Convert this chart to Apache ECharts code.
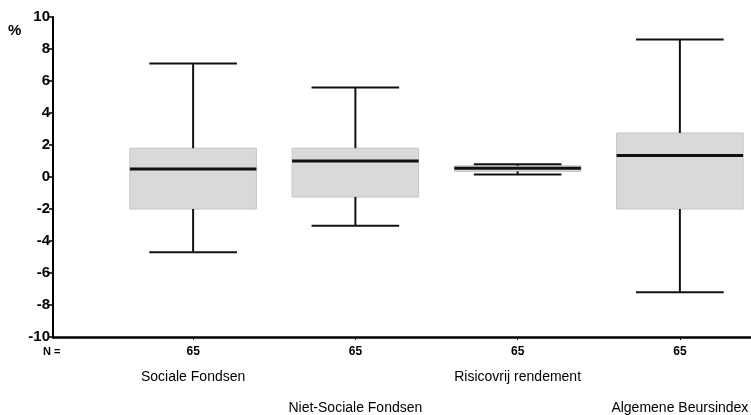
<!DOCTYPE html>
<html lang="nl">
  <head>
    <meta charset="UTF-8" />
    <title>Rendement boxplot</title>
    <style type="text/css">
      html, body {
        margin: 0;
        padding: 0;
        background-color: #fff;
      }
      #main {
        width: 751px;
        height: 415px;
      }
    </style>
  </head>
  <body>
    <div id="main"></div>
    <script src="https://cdn.jsdelivr.net/npm/echarts@6/dist/echarts.min.js"></script>
    <script type="text/javascript">
      // groepen en aantallen
      var categories = ["Sociale Fondsen", "Niet-Sociale Fondsen", "Risicovrij rendement", "Algemene Beursindex"];
      var counts = [65, 65, 65, 65];
      // [min, q1, mediaan, q3, max] in %
      var lowValues = [-4.7, -3.05, 0.15, -7.2];
      var q1Values = [-2.0, -1.25, 0.35, -2.0];
      var medianValues = [0.5, 1.0, 0.55, 1.35];
      var q3Values = [1.8, 1.8, 0.7, 2.75];
      var highValues = [7.1, 5.6, 0.8, 8.6];
      var yTicks = [-10, -8, -6, -4, -2, 0, 2, 4, 6, 8, 10];

      var boxData = categories.map(function (c, i) {
        return [i, lowValues[i], q1Values[i], medianValues[i], q3Values[i], highValues[i]];
      });

      var chartDom = document.getElementById("main");
      var myChart = echarts.init(chartDom, null, { renderer: "canvas" });

      function renderBox(params, api) {
        var idx = api.value(0);
        var band = api.size([1, 0])[0];
        var boxW = band * 0.78;
        var capW = band * 0.54;
        var pLow = api.coord([idx, api.value(1)]);
        var pQ1 = api.coord([idx, api.value(2)]);
        var pMed = api.coord([idx, api.value(3)]);
        var pQ3 = api.coord([idx, api.value(4)]);
        var pHigh = api.coord([idx, api.value(5)]);
        var x = pMed[0];
        var line = { stroke: "#111", lineWidth: 2 };
        return {
          type: "group",
          children: [
            {
              type: "rect",
              shape: { x: x - boxW / 2, y: pQ3[1], width: boxW, height: pQ1[1] - pQ3[1] },
              style: { fill: "#d9d9d9", stroke: "#c4c4c4", lineWidth: 1 }
            },
            { type: "line", shape: { x1: x, y1: pQ3[1], x2: x, y2: pHigh[1] }, style: line },
            { type: "line", shape: { x1: x, y1: pQ1[1], x2: x, y2: pLow[1] }, style: line },
            { type: "line", shape: { x1: x - capW / 2, y1: pHigh[1], x2: x + capW / 2, y2: pHigh[1] }, style: line },
            { type: "line", shape: { x1: x - capW / 2, y1: pLow[1], x2: x + capW / 2, y2: pLow[1] }, style: line },
            { type: "line", shape: { x1: x - boxW / 2, y1: pMed[1], x2: x + boxW / 2, y2: pMed[1] }, style: { stroke: "#111", lineWidth: 3 } }
          ]
        };
      }

      var option = {
        animation: false,
        backgroundColor: "#fff",
        grid: [
          { left: 53, right: 0, top: 17, bottom: 78, outerBoundsMode: "none", containLabel: false },
          { left: 112, width: 649, top: 17, bottom: 78, outerBoundsMode: "none", containLabel: false }
        ],
        graphic: [
          { type: "text", left: 8, top: 23, style: { text: "%", font: "bold 15px Arial", fill: "#000" } },
          { type: "text", left: 43, top: 346, style: { text: "N =", font: "bold 11px Arial", fill: "#000" } }
        ],
        xAxis: [
          {
            gridIndex: 0,
            type: "value",
            position: "bottom",
            min: 0,
            max: 1,
            axisLine: { show: true, onZero: false, lineStyle: { color: "#000", width: 2.5 } },
            axisTick: { show: false },
            axisLabel: { show: false },
            splitLine: { show: false }
          },
          {
            gridIndex: 1,
            type: "category",
            position: "bottom",
            data: categories,
            axisLine: { show: false, onZero: false },
            axisTick: { show: true, alignWithLabel: true, interval: 0, length: 3, lineStyle: { color: "#000", width: 1 } },
            axisLabel: {
              interval: 0,
              margin: 9,
              color: "#000",
              fontFamily: "Arial",
              fontWeight: "bold",
              fontSize: 12,
              formatter: function (v, i) { return String(counts[i]); }
            },
            splitLine: { show: false }
          },
          {
            gridIndex: 1,
            type: "category",
            position: "bottom",
            offset: 0,
            data: categories,
            axisLine: { show: false, onZero: false },
            axisTick: { show: false },
            axisLabel: {
              interval: 0,
              hideOverlap: false,
              margin: 25,
              color: "#000",
              fontFamily: "Arial",
              fontSize: 14,
              lineHeight: 31,
              formatter: function (v, i) { return i % 2 ? "\n" + v : v; }
            },
            splitLine: { show: false }
          }
        ],
        yAxis: [
          {
            gridIndex: 0,
            type: "value",
            min: yTicks[0],
            max: yTicks[yTicks.length - 1],
            interval: 2,
            axisLine: { show: true, lineStyle: { color: "#000", width: 2 } },
            axisTick: { show: true, length: 4, lineStyle: { color: "#000", width: 1.5 } },
            axisLabel: { margin: 3, color: "#000", fontFamily: "Arial", fontWeight: "bold", fontSize: 15 },
            splitLine: { show: false }
          },
          {
            gridIndex: 1,
            type: "value",
            min: yTicks[0],
            max: yTicks[yTicks.length - 1],
            show: false
          }
        ],
        series: [
          {
            type: "custom",
            xAxisIndex: 1,
            yAxisIndex: 1,
            renderItem: renderBox,
            encode: { x: 0, y: [1, 2, 3, 4, 5] },
            data: boxData,
            clip: false
          }
        ]
      };

      myChart.setOption(option);
    </script>
  </body>
</html>
